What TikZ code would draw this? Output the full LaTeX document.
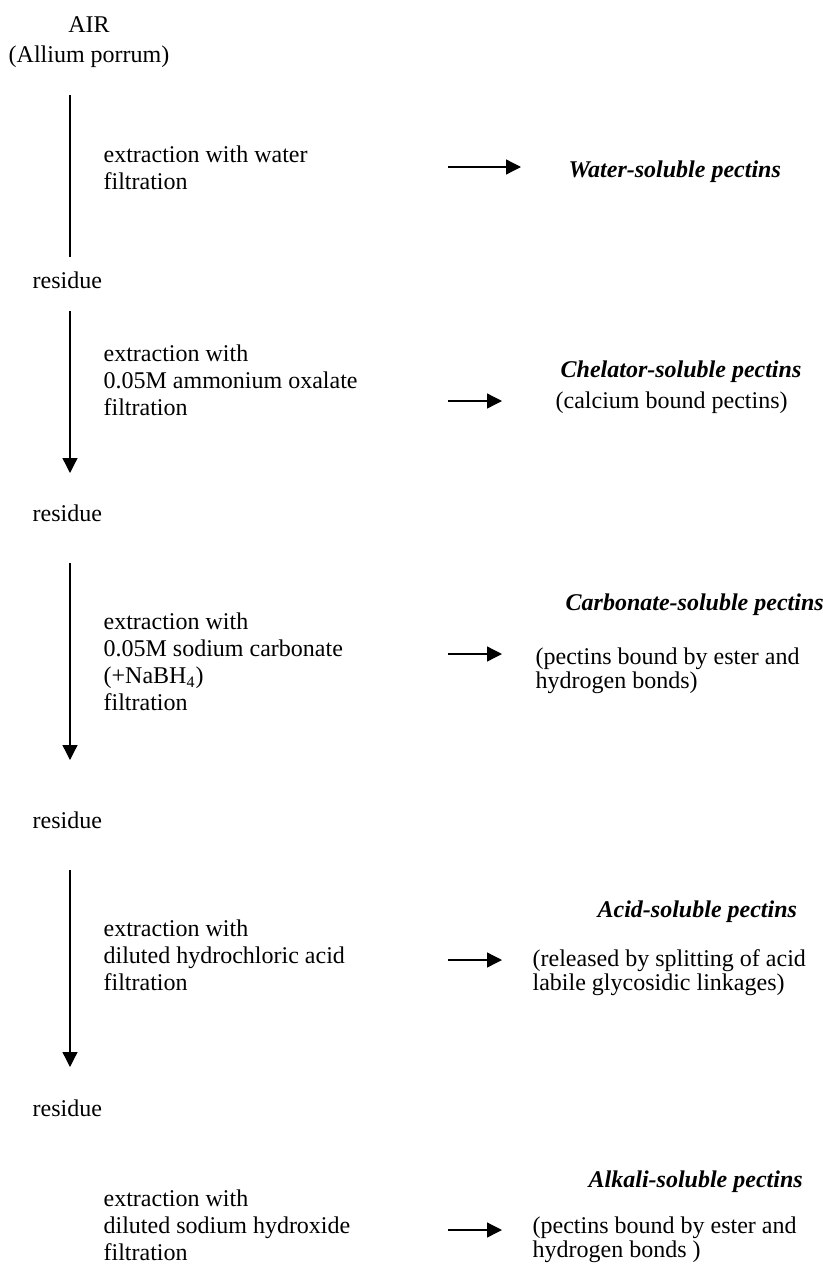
\documentclass[tikz,border=0pt]{standalone}
\usepackage{fontspec}
\setmainfont{Liberation Serif}
\usetikzlibrary{arrows.meta,positioning}

\begin{document}
\begin{tikzpicture}[x=0.5pt, y=-0.5pt, >={Triangle[length=7.5pt,width=7.5pt]}, line width=0.65pt, font=\fontsize{12}{13.5}\selectfont]
\tikzstyle{proc}=[anchor=west, align=left, inner sep=0pt]
\tikzstyle{frac}=[anchor=west, inner sep=0pt, font=\fontsize{12}{13.5}\selectfont\bfseries\itshape]
\tikzstyle{note}=[anchor=west, align=left, inner sep=0pt, font=\fontsize{12}{12}\selectfont]
\tikzstyle{res}=[anchor=west, inner sep=0pt]
\useasboundingbox (0,0) rectangle (823,1264);

% starting material
\node[align=center, inner sep=0pt, font=\fontsize{12}{15}\selectfont] (air) at (89,42) {AIR\\(Allium porrum)};

% left column: extraction steps and residues
\node[proc] (ex1) at (103,168) {extraction with water\\filtration};
\node[res]  (r1)  at (32,280)  {residue};
\node[proc] (ex2) at (103,380) {extraction with\\0.05M ammonium oxalate\\filtration};
\node[res]  (r2)  at (32,513)  {residue};
\node[proc] (ex3) at (103,662) {extraction with\\0.05M sodium carbonate\\(+NaBH\textsubscript{4})\\filtration};
\node[res]  (r3)  at (32,820)  {residue};
\node[proc] (ex4) at (103,955) {extraction with\\diluted hydrochloric acid\\filtration};
\node[res]  (r4)  at (32,1108) {residue};
\node[proc] (ex5) at (103,1225) {extraction with\\diluted sodium hydroxide\\filtration};

% right column: pectin fractions
\node[frac] (f1) at (568,172)  {Water-soluble pectins};
\node[frac] (f2) at (560,372)  {Chelator-soluble pectins};
\node[note] (n2) at (555,403)  {(calcium bound pectins)};
\node[frac] (f3) at (565,605)  {Carbonate-soluble pectins};
\node[note] (n3) at (535,671)  {(pectins bound by ester and\\hydrogen bonds)};
\node[frac] (f4) at (597,912)  {Acid-soluble pectins};
\node[note] (n4) at (532,973)  {(released by splitting of acid\\labile glycosidic linkages)};
\node[frac] (f5) at (588,1182) {Alkali-soluble pectins};
\node[note] (n5) at (532,1240) {(pectins bound by ester and\\hydrogen bonds )};

% vertical flow lines
\coordinate (v1s) at (70,95);   \coordinate (v1e) at (70,257);
\coordinate (v2s) at (70,311);  \coordinate (v2e) at (70,473);
\coordinate (v3s) at (70,563);  \coordinate (v3e) at (70,760);
\coordinate (v4s) at (70,870);  \coordinate (v4e) at (70,1067);
\draw (v1s) -- (v1e);
\draw[->] (v2s) -- (v2e);
\draw[->] (v3s) -- (v3e);
\draw[->] (v4s) -- (v4e);

% arrows to the fractions
\coordinate (h1s) at (448,167);  \coordinate (h1e) at (521,167);
\coordinate (h2s) at (448,401);  \coordinate (h2e) at (502,401);
\coordinate (h3s) at (448,654);  \coordinate (h3e) at (502,654);
\coordinate (h4s) at (448,960);  \coordinate (h4e) at (502,960);
\coordinate (h5s) at (448,1230); \coordinate (h5e) at (502,1230);
\draw[->] (h1s) -- (h1e);
\draw[->] (h2s) -- (h2e);
\draw[->] (h3s) -- (h3e);
\draw[->] (h4s) -- (h4e);
\draw[->] (h5s) -- (h5e);
\end{tikzpicture}
\end{document}
